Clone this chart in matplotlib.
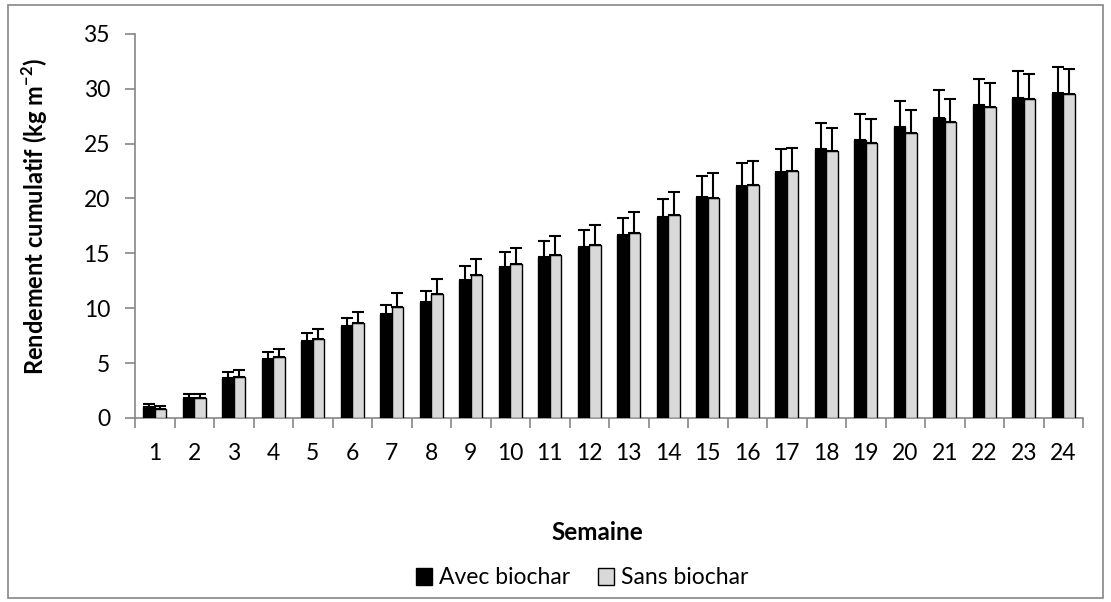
import matplotlib
matplotlib.use("Agg")
import matplotlib.pyplot as plt
import numpy as np
from matplotlib.patches import Rectangle, Patch

weeks = [str(i) for i in range(1, 25)]
avec = [0.97, 1.8, 3.62, 5.38, 6.99, 8.39, 9.45, 10.57, 12.55, 13.73, 14.65, 15.56,
        16.65, 18.32, 20.1, 21.15, 22.36, 24.5, 25.3, 26.5, 27.3, 28.5, 29.14, 29.6]
avec_top = [1.3, 2.16, 4.22, 6.05, 7.78, 9.14, 10.33, 11.55, 13.8, 15.13, 16.1, 17.08,
            18.2, 19.96, 22.0, 23.2, 24.46, 26.9, 27.7, 28.9, 29.84, 30.84, 31.6, 32.0]
sans = [0.85, 1.85, 3.77, 5.53, 7.2, 8.69, 10.09, 11.3, 13.0, 14.0, 14.86, 15.77,
        16.83, 18.47, 20.08, 21.18, 22.48, 24.3, 25.07, 26.0, 26.98, 28.3, 29.02, 29.5]
sans_top = [1.09, 2.16, 4.37, 6.29, 8.11, 9.66, 11.36, 12.64, 14.46, 15.5, 16.56, 17.6,
            18.8, 20.6, 22.3, 23.43, 24.6, 26.4, 27.25, 28.08, 29.08, 30.48, 31.3, 31.75]
yticks = [0, 5, 10, 15, 20, 25, 30, 35]

avec_err = np.array(avec_top) - np.array(avec)
sans_err = np.array(sans_top) - np.array(sans)

plt.rcParams['font.family'] = ['Lato', 'DejaVu Sans']
plt.rcParams['mathtext.fontset'] = 'custom'
plt.rcParams['mathtext.rm'] = 'Lato'
plt.rcParams['mathtext.bf'] = 'Lato:bold'

W, H = 1111, 602
fig = plt.figure(figsize=(W / 100, H / 100), dpi=100)
fig.patches.append(Rectangle((8 / W, 1 - 598 / H), (1103 - 8) / W, (598 - 5) / H,
                             transform=fig.transFigure, fill=False,
                             edgecolor='#868686', linewidth=1.2))

left, right, top, bottom = 135, 1083, 33.7, 418
ax = fig.add_axes([left / W, 1 - bottom / H, (right - left) / W, (bottom - top) / H])

x = np.arange(len(weeks))
bw = 0.286
ekw = dict(ecolor='black', elinewidth=1.5, capsize=4.5, capthick=1.5)
ax.bar(x - bw / 2, avec, bw, color='black', edgecolor='black', linewidth=1,
       yerr=[np.zeros(len(x)), avec_err], error_kw=ekw, label='Avec biochar', zorder=3)
ax.bar(x + bw / 2, sans, bw, color='#D9D9D9', edgecolor='black', linewidth=1,
       yerr=[np.zeros(len(x)), sans_err], error_kw=ekw, label='Sans biochar', zorder=3)

ax.set_xlim(-0.5, len(weeks) - 0.5)
ax.set_ylim(0, 35)
ax.set_yticks(yticks)
ax.set_yticklabels([str(v) for v in yticks], fontsize=16.5)
ax.set_xticks(x)
ax.set_xticklabels(weeks, fontsize=16.5)
ax.set_xticks(np.arange(-0.5, len(weeks), 1), minor=True)
ax.tick_params(axis='x', which='major', length=0, pad=18)
ax.tick_params(axis='x', which='minor', length=7, color='#868686', width=1.2)
ax.tick_params(axis='y', length=7, color='#868686', width=1.2, pad=11)
for s in ['top', 'right']:
    ax.spines[s].set_visible(False)
for s in ['left', 'bottom']:
    ax.spines[s].set_color('#868686')
    ax.spines[s].set_linewidth(1.2)

fig.text(35 / W, 1 - 217 / H, 'Rendement cumulatif (kg m$^{\\mathbf{-2}}$)', rotation=90,
         ha='center', va='center', fontsize=17, fontweight='bold')
fig.text(597 / W, 1 - 533 / H, 'Semaine', ha='center', va='center', fontsize=17.5,
         fontweight='bold')

handles = [Patch(facecolor='black', edgecolor='black', label='Avec biochar'),
           Patch(facecolor='#D9D9D9', edgecolor='black', label='Sans biochar')]
fig.legend(handles=handles, loc='center', bbox_to_anchor=(582 / W, 1 - 578 / H),
           ncol=2, frameon=False, fontsize=16.5, handlelength=0.7, handleheight=0.7,
           handletextpad=0.3, columnspacing=1.2)

fig.savefig('out.png', dpi=100)
